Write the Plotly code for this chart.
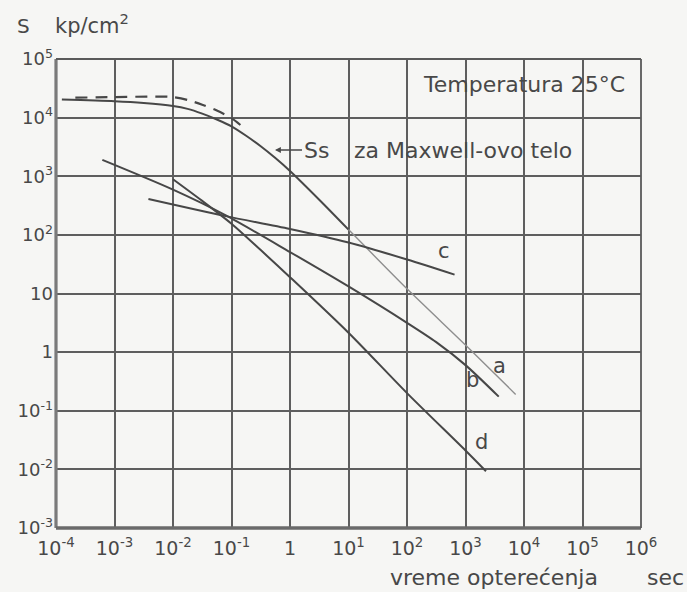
import plotly.graph_objects as go

# ---------------- data ----------------
# Ss curve (solid, dark) up to 10 s, continued by line "a" (lighter)
ss_t = [1.26e-4, 1e-3, 3.16e-3, 1e-2, 1.78e-2, 3.16e-2, 5.62e-2, 0.1, 0.178, 0.316, 0.562, 1, 3.16, 10]
ss_S = [2.04e4, 1.91e4, 1.78e4, 1.58e4, 1.41e4, 1.17e4, 9.3e3, 7.1e3, 4.9e3, 3.24e3, 2.04e3, 1.23e3, 398, 123]

a_t = [10, 100, 1000, 7.2e3]
a_S = [123, 12.0, 1.32, 0.19]

# dashed curve near the top
dash_t = [2.14e-4, 1e-3, 5.0e-3, 1e-2, 1.78e-2, 3.16e-2, 5.62e-2, 0.1, 0.174]
dash_S = [2.19e4, 2.24e4, 2.29e4, 2.24e4, 2.0e4, 1.66e4, 1.32e4, 9.8e3, 6.3e3]

b_t = [6.2e-4, 1e-2, 0.08, 1, 10, 100, 316, 1000, 3.7e3]
b_S = [1.9e3, 590, 215, 51, 13.2, 3.16, 1.48, 0.60, 0.174]

c_t = [3.8e-3, 0.08, 1, 10, 100, 650]
c_S = [410, 209, 126, 74, 38, 21]

d_t = [1e-2, 3.16e-2, 0.1, 0.316, 1, 10, 100, 1000, 2240]
d_S = [890, 380, 155, 55, 19, 2.14, 0.20, 0.021, 9.3e-3]

x_tickvals = [1e-4, 1e-3, 1e-2, 1e-1, 1, 10, 100, 1e3, 1e4, 1e5, 1e6]
x_ticktext = ["10<sup>-4</sup>", "10<sup>-3</sup>", "10<sup>-2</sup>", "10<sup>-1</sup>", "1",
              "10<sup>1</sup>", "10<sup>2</sup>", "10<sup>3</sup>", "10<sup>4</sup>",
              "10<sup>5</sup>", "10<sup>6</sup>"]
y_tickvals = [1e-3, 1e-2, 1e-1, 1, 10, 100, 1e3, 1e4, 1e5]
y_ticktext = ["10<sup>-3</sup>", "10<sup>-2</sup>", "10<sup>-1</sup>", "1", "10",
              "10<sup>2</sup>", "10<sup>3</sup>", "10<sup>4</sup>", "10<sup>5</sup>"]

# ---------------- layout constants (pixels) ----------------
W, H = 687, 592
L, R, T, B = 56, 641, 59, 528
PAPER = "#f6f6f4"
INK = "#474747"
GRID = "#5e5e5e"
TXT = "#484848"
FONT = "DejaVu Sans"


def px(x):
    return (x - L) / (R - L)


def py(y):
    return (B - y) / (B - T)


fig = go.Figure()

line_kw = dict(mode="lines", hoverinfo="skip", showlegend=False)
fig.add_trace(go.Scatter(x=ss_t, y=ss_S, line=dict(color=INK, width=2, shape="spline", smoothing=0.8), **line_kw))
fig.add_trace(go.Scatter(x=a_t, y=a_S, line=dict(color="#8e8e8e", width=1.4, shape="spline", smoothing=0.6), **line_kw))
fig.add_trace(go.Scatter(x=dash_t, y=dash_S, line=dict(color=INK, width=2.2, dash="12px,8px", shape="spline", smoothing=0.8), **line_kw))
fig.add_trace(go.Scatter(x=b_t, y=b_S, line=dict(color=INK, width=2, shape="spline", smoothing=0.8), **line_kw))
fig.add_trace(go.Scatter(x=c_t, y=c_S, line=dict(color=INK, width=2, shape="spline", smoothing=0.8), **line_kw))
fig.add_trace(go.Scatter(x=d_t, y=d_S, line=dict(color=INK, width=2, shape="spline", smoothing=0.8), **line_kw))

shapes = []
# paper-coloured boxes hiding the grid behind the labels
shapes.append(dict(type="rect", xref="paper", yref="paper", x0=px(412), x1=px(R - 1), y0=py(104), y1=py(T + 1),
                   fillcolor=PAPER, line=dict(width=0), layer="between"))
shapes.append(dict(type="rect", xref="paper", yref="paper", x0=px(298), x1=px(578), y0=py(169), y1=py(130),
                   fillcolor=PAPER, line=dict(width=0), layer="between"))
# frame
shapes.append(dict(type="line", xref="paper", yref="paper", x0=0, x1=0, y0=0, y1=1, line=dict(color="#7a7a7a", width=3.2)))
shapes.append(dict(type="line", xref="paper", yref="paper", x0=0, x1=1, y0=0, y1=0, line=dict(color="#6a6a6a", width=3.6)))
shapes.append(dict(type="line", xref="paper", yref="paper", x0=0, x1=1, y0=1, y1=1, line=dict(color="#5a5a5a", width=2)))
shapes.append(dict(type="line", xref="paper", yref="paper", x0=1, x1=1, y0=0, y1=1, line=dict(color="#5a5a5a", width=1.8)))

ann = []
tf = dict(family=FONT, color=TXT)
ann.append(dict(xref="paper", yref="paper", x=px(15), y=py(26), xanchor="left", yanchor="middle", showarrow=False,
                text="S", font=dict(size=20, **tf)))
ann.append(dict(xref="paper", yref="paper", x=px(53), y=py(24), xanchor="left", yanchor="middle", showarrow=False,
                text="kp/cm<sup>2</sup>", font=dict(size=21, **tf)))
ann.append(dict(xref="paper", yref="paper", x=px(421), y=py(84), xanchor="left", yanchor="middle", showarrow=False,
                text="Temperatura 25°C", font=dict(size=22, **tf)))
ann.append(dict(xref="paper", yref="paper", x=px(352), y=py(151), xanchor="left", yanchor="middle", showarrow=False,
                text="za Maxwell-ovo telo", font=dict(size=22, **tf)))
ann.append(dict(xref="paper", yref="paper", x=px(275), y=py(150), ax=41, ay=0, showarrow=True,
                arrowhead=2, arrowsize=0.9, arrowwidth=1.3, arrowcolor=TXT,
                text="Ss", font=dict(size=22, **tf)))
for lab, xx, yy in [("a", 508, 366), ("b", 481, 394), ("c", 444, 251), ("d", 490, 456)]:
    ann.append(dict(xref="paper", yref="paper", x=px(xx), y=py(yy), showarrow=False, text=lab,
                    font=dict(size=21, **tf)))
ann.append(dict(xref="paper", yref="paper", x=px(388), y=py(577), xanchor="left", yanchor="middle", showarrow=False,
                text="vreme opterećenja", font=dict(size=22, **tf)))
ann.append(dict(xref="paper", yref="paper", x=px(645), y=py(577), xanchor="left", yanchor="middle", showarrow=False,
                text="sec", font=dict(size=22, **tf)))

fig.update_layout(
    width=W, height=H,
    margin=dict(l=L, r=W - R, t=T, b=H - B, pad=0),
    paper_bgcolor=PAPER, plot_bgcolor=PAPER,
    shapes=shapes, annotations=ann,
    xaxis=dict(type="log", range=[-4, 6], tickvals=x_tickvals, ticktext=x_ticktext,
               showgrid=True, gridcolor=GRID, gridwidth=1.5, showline=False, zeroline=False,
               ticks="", ticklabelstandoff=7, tickfont=dict(size=19, family=FONT, color=TXT)),
    yaxis=dict(type="log", range=[-3, 5], tickvals=y_tickvals, ticktext=y_ticktext,
               showgrid=True, gridcolor=GRID, gridwidth=1.5, showline=False, zeroline=False,
               ticks="", ticklabelstandoff=2, tickfont=dict(size=18, family=FONT, color=TXT)),
)

fig.write_html("out.html")
